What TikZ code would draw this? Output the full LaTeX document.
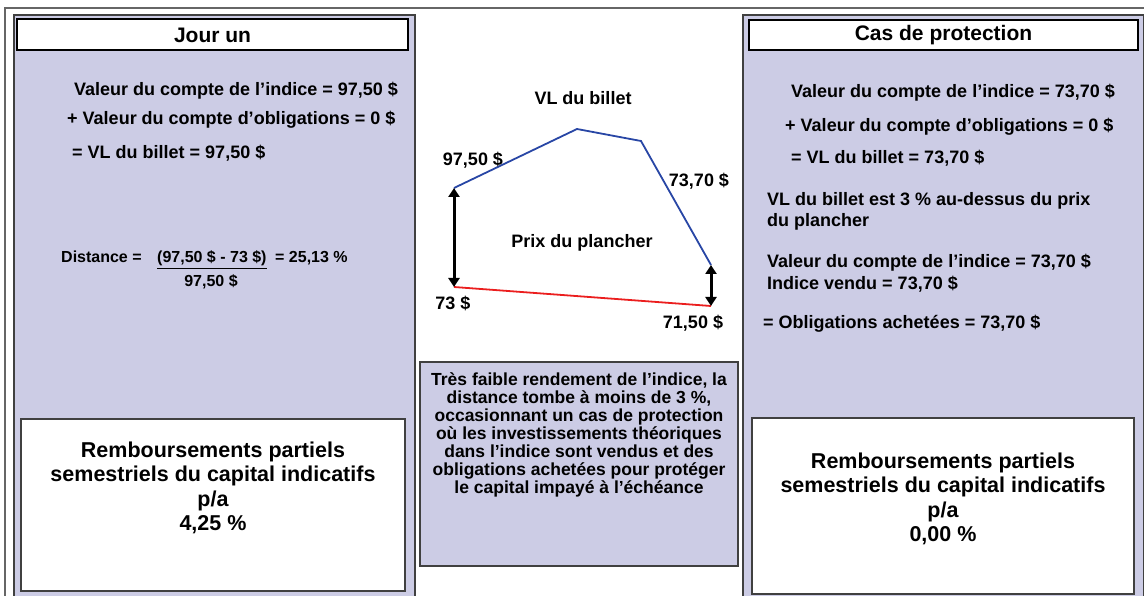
\documentclass[tikz,border=0pt]{standalone}
\usepackage{fontspec}
\setmainfont{Liberation Sans}
\usetikzlibrary{arrows.meta}
\definecolor{lavande}{RGB}{204,204,229}
\definecolor{cadre}{RGB}{64,64,64}
\definecolor{bleuvl}{RGB}{40,70,165}
\definecolor{rougepl}{RGB}{235,30,30}

\begin{document}
\begin{tikzpicture}[x=1pt, y=-1pt,
  panneau/.style={draw=cadre, line width=1.8pt, fill=lavande, anchor=north west, minimum width=401pt, minimum height=600pt},
  titre/.style={draw=black, line width=2pt, fill=white, inner sep=0pt, font=\bfseries\fontsize{21}{24}\selectfont},
  boite/.style={draw=cadre, line width=1.6pt, fill=white, inner sep=0pt},
  txt/.style={anchor=base west, inner sep=0pt, font=\bfseries\fontsize{18}{21}\selectfont},
  bloc/.style={inner sep=0pt, align=center, font=\bfseries\fontsize{21.5}{24.5}\selectfont},
  etiq/.style={inner sep=0pt, font=\bfseries\fontsize{18}{21}\selectfont},
  fleche/.style={{Triangle[width=11pt,length=9pt]}-{Triangle[width=11pt,length=9pt]}, line width=3pt}]
\useasboundingbox (0,0) rectangle (1144,596);
\draw[line width=2pt, draw=gray!80!black] (5,600) -- (5,8) -- (1144,8);

\node[panneau] (jour) at (13,14) {};
\node[panneau] (cas)  at (742,14) {};

\node[titre, minimum width=391pt, minimum height=31pt] (tjour) at (212.5,35) {Jour un};
\node[titre, minimum width=389pt, minimum height=30pt] (tcas)  at (943.5,35)  {Cas de protection};

\node[txt] (j1) at (74,96)  {Valeur du compte de l’indice = 97,50 \$};
\node[txt] (j2) at (67,125) {+ Valeur du compte d’obligations = 0 \$};
\node[txt] (j3) at (72,159) {= VL du billet = 97,50 \$};

\node[txt, font=\bfseries\fontsize{16}{19}\selectfont] (dist) at (61,263)  {Distance =};
\node[txt, font=\bfseries\fontsize{16}{19}\selectfont] (num)  at (157,263) {\underline{(97,50 \$ - 73 \$)}};
\node[txt, font=\bfseries\fontsize{16}{19}\selectfont] (res)  at (275,263) {= 25,13 \%};
\node[anchor=base, inner sep=0pt, font=\bfseries\fontsize{16}{19}\selectfont] (den) at (211,287) {97,50 \$};

\node[txt] (c1) at (791,98)  {Valeur du compte de l’indice = 73,70 \$};
\node[txt] (c2) at (785,132) {+ Valeur du compte d’obligations = 0 \$};
\node[txt] (c3) at (791,164) {= VL du billet = 73,70 \$};
\node[txt, align=left, anchor=north west] (c4) at (767,192) {VL du billet est 3 \% au-dessus du prix\\du plancher};
\node[txt, align=left, anchor=north west, font=\bfseries\fontsize{18}{22}\selectfont] (c5) at (767,254) {Valeur du compte de l’indice = 73,70 \$\\Indice vendu = 73,70 \$};
\node[txt] (c6) at (763,328) {= Obligations achetées = 73,70 \$};

\node[boite, minimum width=384pt, minimum height=172pt] (bjour) at (213,505) {};
\node[bloc] (rjour) at (213,488) {Remboursements partiels\\semestriels du capital indicatifs\\p/a\\4,25 \%};
\node[boite, minimum width=382pt, minimum height=176pt] (bcas) at (943,506) {};
\node[bloc] (rcas) at (943,499) {Remboursements partiels\\semestriels du capital indicatifs\\p/a\\0,00 \%};

\node[boite, fill=lavande, minimum width=318pt, minimum height=204pt] (bmilieu) at (579,464) {};
\node[bloc, font=\bfseries\fontsize{17.5}{18}\selectfont] (rmilieu) at (579,435) {Très faible rendement de l’indice, la\\distance tombe à moins de 3 \%,\\occasionnant un cas de protection\\où les investissements théoriques\\dans l’indice sont vendus et des\\obligations achetées pour protéger\\le capital impayé à l’échéance};

\coordinate (vA) at (454,188);
\coordinate (vB) at (577,129);
\coordinate (vC) at (641,141);
\coordinate (vD) at (711,265);
\coordinate (pA) at (454,287);
\coordinate (pB) at (711,306);

\draw[bleuvl, line width=1.8pt] (vA) -- (vB) -- (vC) -- (vD);
\draw[rougepl, line width=1.8pt] (pA) -- (pB);
\draw[fleche] (vA) -- (pA);
\draw[fleche] (vD) -- (pB);

\node[etiq] (lvl)  at (583,98)  {VL du billet};
\node[etiq] (l975) at (473,160) {97,50 \$};
\node[etiq] (l737) at (699,181) {73,70 \$};
\node[etiq] (lpp)  at (582,243) {Prix du plancher};
\node[etiq] (l73)  at (453,303) {73 \$};
\node[etiq] (l715) at (693,323) {71,50 \$};
\end{tikzpicture}
\end{document}
